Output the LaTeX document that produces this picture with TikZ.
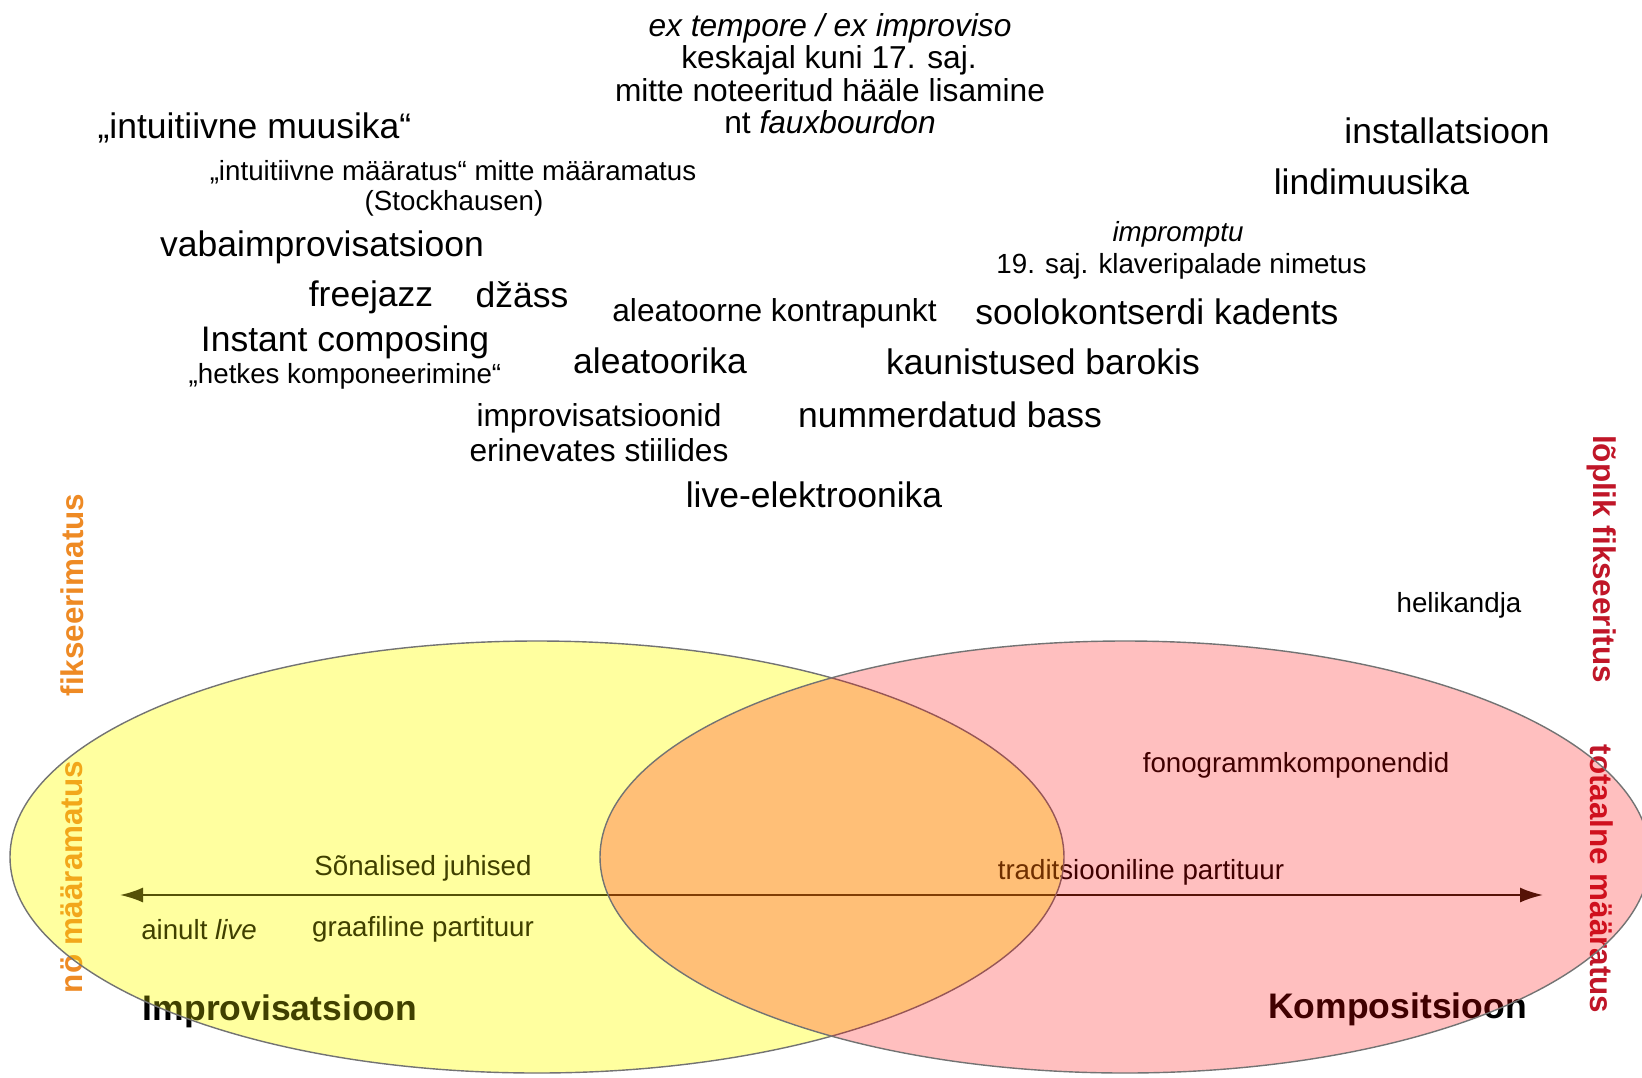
\documentclass[tikz,border=0pt]{standalone}
\usepackage{fontspec}
\setmainfont{Liberation Sans}
\usetikzlibrary{arrows.meta}

\definecolor{lblorange}{RGB}{238,138,36}
\definecolor{lblred}{RGB}{192,22,40}
\definecolor{edgegray}{RGB}{115,115,115}
\definecolor{arrowdark}{RGB}{30,25,10}
\definecolor{impbase}{RGB}{255,255,213}
\definecolor{impyellow}{RGB}{255,255,0}
\definecolor{compred}{RGB}{255,0,0}

\tikzset{
  txtbig/.style={anchor=base, inner sep=0pt, font=\fontsize{35.5}{40}\selectfont},
  txtmid/.style={anchor=base, inner sep=0pt, font=\fontsize{31.7}{36}\selectfont},
  txtsmall/.style={anchor=base, inner sep=0pt, font=\fontsize{27.7}{32}\selectfont},
  txttitle/.style={anchor=base, inner sep=0pt, font=\bfseries\fontsize{35.5}{40}\selectfont},
  axislbl/.style={inner sep=0pt, font=\bfseries\fontsize{31.4}{36}\selectfont},
  setimpbase/.style={fill=impbase},
  setimp/.style={fill=impyellow, fill opacity=0.25, draw=edgegray, line width=1.4pt},
  setcomp/.style={fill=compred, fill opacity=0.25, draw=edgegray, line width=1.4pt},
  scale arrow/.style={arrowdark, line width=2pt,
    {Latex[length=23pt,width=15pt]}-{Latex[length=23pt,width=15pt]}}
}

\begin{document}
\begin{tikzpicture}[x=1pt,y=-1pt]
\useasboundingbox (0,0) rectangle (1642,1077);
\clip (0,0) rectangle (1642,1077);
\fill[white] (0,0) rectangle (1642,1077);

% pale base of the improvisation set, beneath the text
\path[setimpbase] (537,857) ellipse [x radius=527, y radius=216];

% --- historical notes at the top ---
\node[txtmid] (ext1) at (830,36.5) {\itshape ex tempore / ex improviso};
\node[txtmid] (ext2) at (829,68.5) {keskajal kuni 17. saj.};
\node[txtmid] (ext3) at (830,101) {mitte noteeritud hääle lisamine};
\node[txtmid] (ext4) at (830,133.5) {nt \itshape fauxbourdon};

% --- improvisation side terms ---
\node[txtbig] (intmus) at (254.5,138) {„intuitiivne muusika“};
\node[txtsmall] (intmaar) at (453,180) {„intuitiivne määratus“ mitte määramatus};
\node[txtsmall] (stock) at (454,210) {(Stockhausen)};
\node[txtbig] (vaba) at (322,256) {vabaimprovisatsioon};
\node[txtbig] (free) at (371,306) {freejazz};
\node[txtbig] (jazz) at (522,307) {džäss};
\node[txtbig] (instant) at (345,351) {Instant composing};
\node[txtsmall] (hetk) at (345,383) {„hetkes komponeerimine“};

% --- middle ground ---
\node[txtmid] (aleakp) at (774.5,321.5) {aleatoorne kontrapunkt};
\node[txtbig] (alea) at (660,373) {aleatoorika};
\node[txtmid] (stiil1) at (599,426.5) {improvisatsioonid};
\node[txtmid] (stiil2) at (599,461.5) {erinevates stiilides};
\node[txtbig] (live) at (814,507) {live-elektroonika};

% --- composition side terms ---
\node[txtbig] (install) at (1447,143) {installatsioon};
\node[txtbig] (lindi) at (1371.5,194) {lindimuusika};
\node[txtsmall] (imp1) at (1178,241) {\itshape impromptu};
\node[txtsmall] (imp2) at (1181.5,273) {19. saj. klaveripalade nimetus};
\node[txtbig] (kadents) at (1157,324) {soolokontserdi kadents};
\node[txtbig] (barokk) at (1043,374) {kaunistused barokis};
\node[txtbig] (bass) at (950,427) {nummerdatud bass};
\node[txtsmall] (heli) at (1459,612) {helikandja};

% --- labels inside the two sets ---
\node[txtsmall] (fono) at (1296,772) {fonogrammkomponendid};
\node[txtsmall] (sona) at (423,875) {Sõnalised juhised};
\node[txtsmall] (trad) at (1141,879) {traditsiooniline partituur};
\node[txtsmall] (graaf) at (423,936) {graafiline partituur};
\node[txtsmall] (ainult) at (199,939) {ainult \itshape live};
\node[txttitle] (improv) at (280,1020) {Improvisatsioon};
\node[txttitle] (kompos) at (1397.5,1018) {Kompositsioon};

% --- scale from indeterminacy to total determinacy ---
\coordinate (scaleL) at (120,895);
\coordinate (scaleR) at (1543,895);
\draw[scale arrow] (scaleL) -- (scaleR);

% --- vertical axis captions ---
\node[axislbl, text=lblorange, rotate=90] (fiks) at (72,595) {fikseerimatus};
\node[axislbl, text=lblorange, rotate=90] (nomaar) at (72,877) {nö määramatus};
\node[axislbl, text=lblred, rotate=-90] (loplik) at (1602,559) {lõplik fikseeritus};
\node[axislbl, text=lblred, rotate=-90] (totaal) at (1602,879) {totaalne määratus};

% --- the two overlapping sets, laid over the text ---
\path[setimp] (537,857) ellipse [x radius=527, y radius=216];
\path[setcomp] (1125,857) ellipse [x radius=525, y radius=216];
\end{tikzpicture}
\end{document}
